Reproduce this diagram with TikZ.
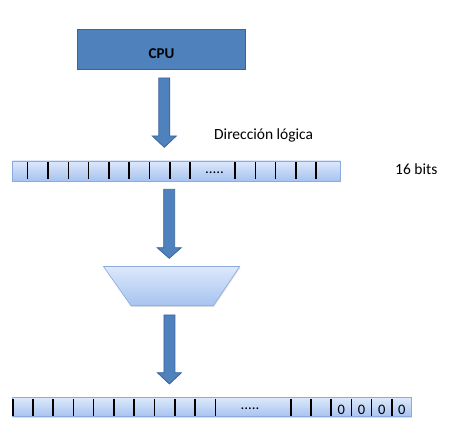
\documentclass[tikz,border=0pt]{standalone}
\usepackage{fontspec}
\setmainfont{Carlito}
\usetikzlibrary{shadows}
\definecolor{cpublue}{HTML}{4F81BD}
\definecolor{cpuedge}{HTML}{3A62A0}
\definecolor{regtop}{HTML}{DDE8FB}
\definecolor{regbot}{HTML}{A6C3F0}
\definecolor{regedge}{HTML}{8AABDB}
\tikzset{
  cpubox/.style={draw=cpuedge, fill=cpublue, line width=1pt},
  blockarrow/.style={draw=cpuedge, fill=cpublue, line width=0.8pt, line join=miter},
  regbox/.style={draw=regedge, line width=0.6pt, top color=regtop, bottom color=regbot,
    drop shadow={shadow xshift=0.6pt, shadow yshift=-1.2pt, opacity=0.25}},
  tick/.style={draw=black, line width=1.6pt},
  lbl/.style={font=\fontsize{15.5}{18}\selectfont, inner sep=0pt},
  dotlbl/.style={font=\fontsize{15}{18}\selectfont, inner sep=0pt},
  zerolbl/.style={font=\fontsize{14.5}{17}\selectfont, inner sep=0pt}
}
\newcommand{\barrow}[4]{% cx, ytop, yhead, ytip
  \path[blockarrow] (#1-5.5,#2) -- (#1+5.5,#2) -- (#1+5.5,#3) -- (#1+12,#3)
    -- (#1,#4) -- (#1-12,#3) -- (#1-5.5,#3) -- cycle;}
\begin{document}
\begin{tikzpicture}[x=1pt,y=-1pt]
\useasboundingbox (0,0) rectangle (450,435);
% CPU
\path[cpubox] (77.5,30) rectangle (245.5,70);
\node[lbl, font=\fontsize{15}{18}\selectfont\bfseries, anchor=base] (cpu) at (161.5,58.3) {CPU};
% arrow 1
\barrow{164.3}{78}{136}{147.3}
\node[lbl, anchor=base west] (dirlog) at (214,140) {Dirección lógica};
% register 1
\path[regbox] (12.3,161) rectangle (340.7,181);
\foreach \x in {27.3,48,68.3,88.6,108.9,129.2,149.5,169.8,190,235,255.3,275.6,295.9,316.2}
  \draw[tick] (\x,162.5) -- (\x,179.5);
\node[dotlbl, anchor=base] (dots1) at (214.5,173.3) {.....};
\node[lbl, anchor=base west] (bits) at (395,175) {16 bits};
% arrow 2
\barrow{169.2}{189.3}{247.7}{258.3}
% trapezoid
\path[regbox] (103.5,266.5) -- (239.7,266.5) -- (213.3,305.8) -- (131,305.8) -- cycle;
% arrow 3
\barrow{169.4}{315}{372.7}{384}
% register 2
\path[regbox] (12.3,397.7) rectangle (411.7,416.7);
\foreach \x in {12.8,32.7,53,73.3,93.6,113.9,134.2,154.5,174.8,195,215.3,290.7,311,331.2,351.4,371.6,391.8}
  \draw[tick] (\x,398.8) -- (\x,415.6);
\node[dotlbl, anchor=base] (dots2) at (250,409.3) {.....};
\foreach \x/\n in {341.3/z1,361.5/z2,381.7/z3,401.8/z4}
  \node[zerolbl, anchor=base] (\n) at (\x,414.5) {0};
\end{tikzpicture}
\end{document}
